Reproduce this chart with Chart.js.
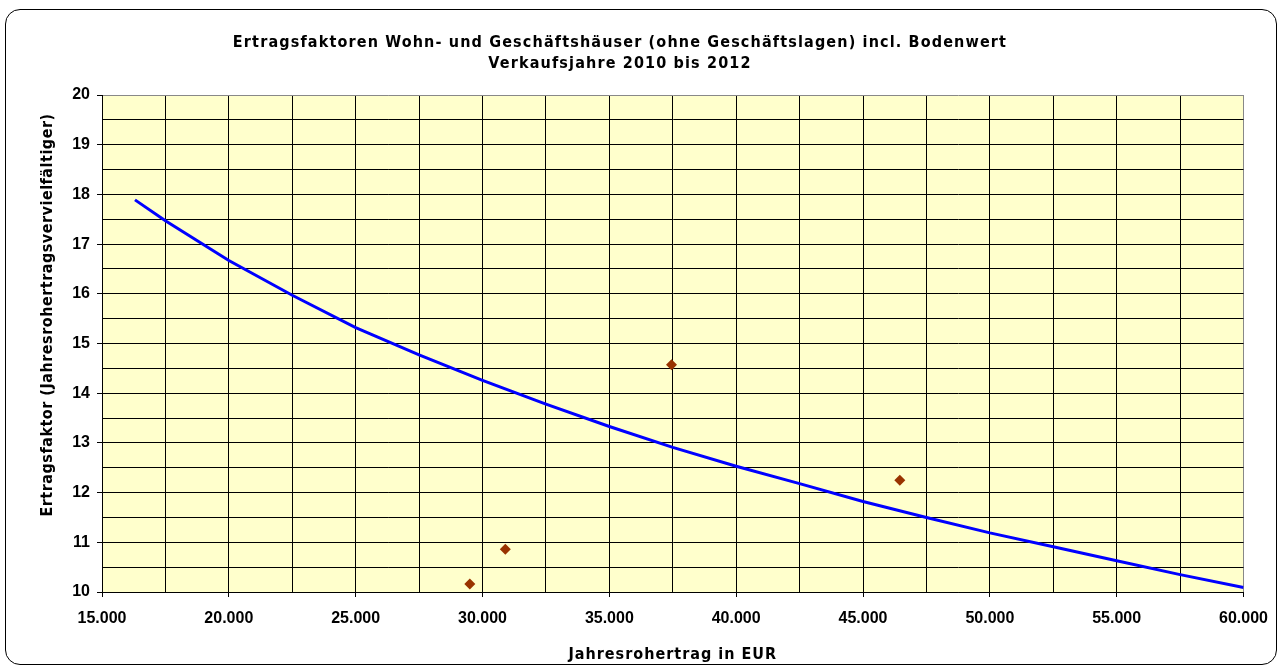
<!DOCTYPE html>
<html>
<head>
<meta charset="utf-8">
<script src="https://cdn.jsdelivr.net/npm/chart.js@4/dist/chart.umd.min.js"></script>
<style>
  html, body { margin: 0; padding: 0; background: #fff; }
  #wrap { position: relative; width: 1280px; height: 668px; }
  #frame {
    position: absolute; left: 5px; top: 9px; width: 1272px; height: 656px;
    box-sizing: border-box; border: 1px solid #000; border-radius: 15px;
    pointer-events: none;
  }
  canvas { position: absolute; left: 0; top: 0; }
</style>
</head>
<body>
<div id="wrap">
  <canvas id="ertragChart" width="1280" height="668"></canvas>
  <div id="frame"></div>
</div>
<script>
// Titel
var titleText = [
    'Ertragsfaktoren Wohn- und Geschäftshäuser (ohne Geschäftslagen) incl. Bodenwert',
    'Verkaufsjahre 2010 bis 2012'
];
var xTitle = 'Jahresrohertrag in EUR';
var yTitle = 'Ertragsfaktor (Jahresrohertragsvervielfältiger)';

// Achsen
var xMin = 15000, xMax = 60000, xStep = 2500, xLabelStep = 5000;
var yMin = 10, yMax = 20, yStep = 0.5;

// Kauffälle (Punkte)
var saleRent = [29500, 30900, 37450, 46450];
var saleFactor = [10.16, 10.86, 14.57, 12.25];

// Trendlinie
var trendRent = [16300, 17500, 20000, 22500, 25000, 27500, 30000, 32500, 35000, 37500,
                 40000, 42500, 45000, 47500, 50000, 52500, 55000, 57500, 60000];
var trendFactor = [17.89, 17.47, 16.67, 15.97, 15.32, 14.77, 14.26, 13.78, 13.33, 12.91,
                   12.53, 12.18, 11.82, 11.50, 11.19, 10.91, 10.63, 10.35, 10.09];

function toPoints(xs, ys) {
    return xs.map(function(x, i) { return { x: x, y: ys[i] }; });
}

var tickFont = { family: '"Liberation Sans", Arial, sans-serif', size: 16, weight: 'bold' };
var labelFont = 'bold 16px "DejaVu Sans Condensed", "Liberation Sans", sans-serif';

var plotBackground = {
    id: 'plotBackground',
    beforeDraw: function(chart) {
        var ctx = chart.ctx, a = chart.chartArea;
        ctx.save();
        ctx.fillStyle = '#ffffff';
        ctx.fillRect(0, 0, chart.width, chart.height);
        ctx.fillStyle = '#ffffcc';
        ctx.fillRect(a.left, a.top, a.right - a.left, a.bottom - a.top);
        ctx.restore();
    }
};

// Diagramm- und Achsentitel (gesperrt, wie im Original)
var titleLines = {
    id: 'titleLines',
    afterDraw: function(chart) {
        var ctx = chart.ctx, a = chart.chartArea;
        ctx.save();
        ctx.font = labelFont;
        ctx.fillStyle = '#000';
        ctx.textAlign = 'center';
        ctx.textBaseline = 'middle';
        ctx.letterSpacing = '1.15px';
        titleText.forEach(function(t, i) {
            ctx.fillText(t, 620, 43 + i * 21);
        });
        ctx.letterSpacing = '1px';
        ctx.fillText(xTitle, (a.left + a.right) / 2, 655);
        ctx.letterSpacing = '0.5px';
        ctx.translate(48, 315);
        ctx.rotate(-Math.PI / 2);
        ctx.fillText(yTitle, 0, 0);
        ctx.restore();
    }
};

var ctxErtrag = document.getElementById('ertragChart').getContext('2d');
var ertragChart = new Chart(ctxErtrag, {
    type: 'scatter',
    data: {
        datasets: [{
            label: 'Kauffälle',
            data: toPoints(saleRent, saleFactor),
            pointStyle: 'rectRot',
            pointRadius: 5.5,
            pointHoverRadius: 5.5,
            backgroundColor: '#993300',
            borderColor: '#993300',
            borderWidth: 0
        }, {
            label: 'Trend',
            data: toPoints(trendRent, trendFactor),
            showLine: true,
            pointRadius: 0,
            borderColor: '#0000ff',
            borderWidth: 3,
            fill: false
        }]
    },
    options: {
        responsive: false,
        animation: false,
        layout: { padding: { top: 95, left: 0, right: 34, bottom: 0 } },
        plugins: {
            legend: { display: false },
            tooltip: { enabled: false }
        },
        scales: {
            x: {
                type: 'linear',
                min: xMin,
                max: xMax,
                afterFit: function(scale) { scale.height = 76; },
                border: { color: '#000', width: 1 },
                grid: {
                    color: function(c) { return c.tick && c.tick.value === xMax ? '#888' : '#000'; },
                    tickLength: 5,
                    tickColor: function(c) { return c.tick && c.tick.value % xLabelStep === 0 ? '#000' : 'rgba(0,0,0,0)'; }
                },
                ticks: {
                    stepSize: xStep,
                    autoSkip: false,
                    maxRotation: 0,
                    padding: 12,
                    color: '#000',
                    font: tickFont,
                    callback: function(v) {
                        return v % xLabelStep === 0 ? (v / 1000) + '.000' : '';
                    }
                }
            },
            y: {
                min: yMin,
                max: yMax,
                afterFit: function(scale) { scale.width = 102; },
                border: { color: '#000', width: 1 },
                grid: {
                    color: function(c) { return c.tick && c.tick.value === yMax ? '#888' : '#000'; },
                    tickLength: 5,
                    tickColor: function(c) { return c.tick && Number.isInteger(c.tick.value) ? '#000' : 'rgba(0,0,0,0)'; }
                },
                ticks: {
                    stepSize: yStep,
                    autoSkip: false,
                    padding: 7,
                    color: '#000',
                    font: tickFont,
                    callback: function(v) {
                        return Number.isInteger(v) ? v : '';
                    }
                }
            }
        }
    },
    plugins: [plotBackground, titleLines]
});
</script>
</body>
</html>
